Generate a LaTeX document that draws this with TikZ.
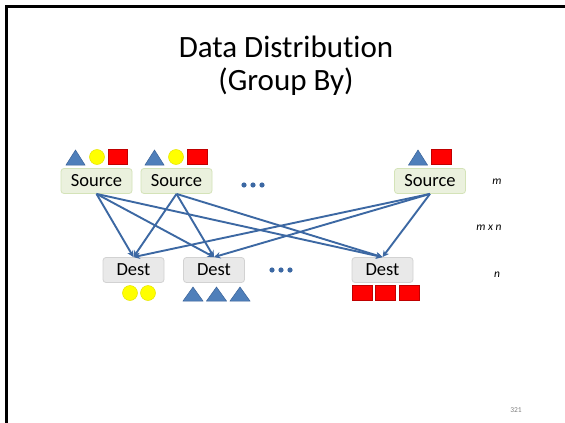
\documentclass[tikz,border=0pt]{standalone}
\usepackage{fontspec}
\setmainfont[Ligatures=NoCommon]{Carlito}
\usetikzlibrary{arrows.meta}
\definecolor{srcfill}{HTML}{EBF1DE}
\definecolor{srcline}{HTML}{D4E3B8}
\definecolor{dstfill}{HTML}{E9E9E9}
\definecolor{dstline}{HTML}{D2D2D2}
\definecolor{flow}{HTML}{3C68A3}
\definecolor{tri}{HTML}{4F7FBA}
\definecolor{triline}{HTML}{3A6399}
\definecolor{sq}{HTML}{FF0000}
\definecolor{sqline}{HTML}{C00000}
\definecolor{dot}{HTML}{FFFF00}
\definecolor{dotline}{HTML}{E6E600}
\tikzset{
  srcbox/.style={draw=srcline, fill=srcfill, line width=0.8pt, rounded corners=3pt,
    minimum width=71pt, minimum height=25pt, inner sep=0pt,
    font=\fontsize{18.5}{20}\selectfont},
  dstbox/.style={draw=dstline, fill=dstfill, line width=0.8pt, rounded corners=3pt,
    minimum width=61pt, minimum height=25pt, inner sep=0pt,
    font=\fontsize{18.5}{20}\selectfont},
  flowarrow/.style={draw=flow, line width=1.9pt, -{Stealth[length=6.5pt,width=6.5pt]}},
  tokentri/.style={fill=tri, draw=triline, line width=0.5pt},
  tokensq/.style={fill=sq, draw=sqline, line width=0.5pt},
  tokendot/.style={fill=dot, draw=dotline, line width=0.5pt},
  ellip/.style={fill=flow, draw=none},
  side/.style={font=\fontsize{11.5}{13}\selectfont\itshape},
}
\begin{document}
\begin{tikzpicture}[x=1pt,y=-1pt]
\useasboundingbox (0,0) rectangle (565,423);
\fill[white] (0,0) rectangle (565,423);
% slide frame
\draw[black, line width=3pt] (6.2,423) -- (6.2,6.2) -- (565,6.2);

% title
\node[align=center, font=\fontsize{31}{33}\selectfont] (title) at (286,66)
  {Data Distribution\\(Group By)};

% sources
\node[srcbox] (s1) at (96.5,181) {Source};
\node[srcbox] (s2) at (176.5,181) {Source};
\node[srcbox] (s3) at (430,181) {Source};

% destinations
\node[dstbox] (d1) at (133.5,270) {Dest};
\node[dstbox] (d2) at (214,270) {Dest};
\node[dstbox] (d3) at (382.5,270) {Dest};

% records above the sources
\path[tokentri] (66,165) -- (85,165) -- (75.5,150) -- cycle;
\path[tokendot] (97,157) circle (7.5);
\path[tokensq] (108,149.5) rectangle (127.5,164.5);
\path[tokentri] (145,165) -- (164,165) -- (154.5,150) -- cycle;
\path[tokendot] (176,157) circle (7.5);
\path[tokensq] (187.5,149.5) rectangle (207,164.5);
\path[tokentri] (408.5,165) -- (427.5,165) -- (418,150) -- cycle;
\path[tokensq] (431.5,149.5) rectangle (451.5,164.5);

% records below the destinations
\path[tokendot] (130,293) circle (7.5);
\path[tokendot] (148,293) circle (7.5);
\path[tokentri] (183,301) -- (203,301) -- (193,287) -- cycle;
\path[tokentri] (206.5,301) -- (226.5,301) -- (216.5,287) -- cycle;
\path[tokentri] (230,301) -- (250,301) -- (240,287) -- cycle;
\path[tokensq] (352,285) rectangle (372,300.5);
\path[tokensq] (375.5,285) rectangle (395.5,300.5);
\path[tokensq] (399,285) rectangle (419,300.5);

% ellipses
\foreach \x in {244,253,262} \path[ellip] (\x,185) circle (2.6);
\foreach \x in {272,281,290} \path[ellip] (\x,270) circle (2.6);

% all-to-all shuffle
\foreach \s in {s1,s2,s3}
  \foreach \d in {d1,d2,d3}
    \draw[flowarrow] (\s.south) -- (\d.north);

% side annotations
\node[side] (lm) at (497,182) {m};
\node[side] (lmn) at (489,228) {m x n};
\node[side] (ln) at (497,275) {n};

% page number
\node[font=\fontsize{7.5}{8}\selectfont, text=gray] (page) at (516,410) {321};
\end{tikzpicture}
\end{document}
